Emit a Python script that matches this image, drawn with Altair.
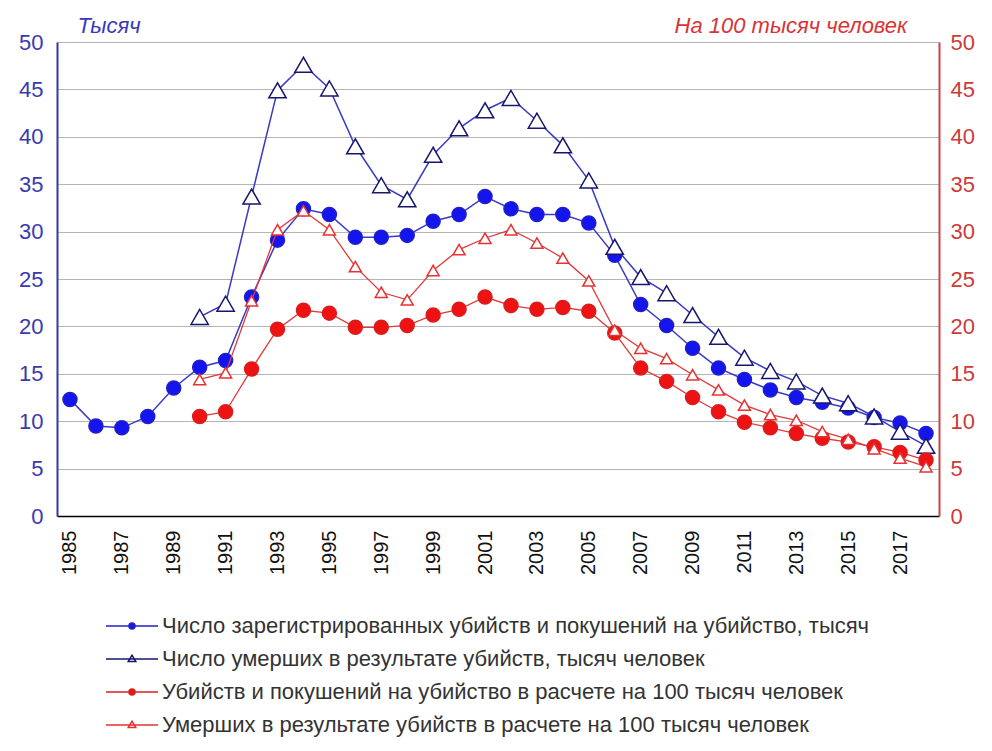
import altair as alt
import pandas as pd

years_all = list(range(1985, 2019))
years_late = list(range(1990, 2019))

S1 = "Число  зарегистрированных убийств и покушений на убийство, тысяч"
S2 = "Число  умерших в результате убийств, тысяч человек"
S3 = "Убийств и покушений  на убийство в расчете на 100 тысяч человек"
S4 = "Умерших в результате убийств в расчете на 100 тысяч человек"
series_names = [S1, S2, S3, S4]

murders_thousand = [12.3, 9.5, 9.3, 10.5, 13.5, 15.7, 16.4, 23.1, 29.1, 32.4,
                    31.8, 29.4, 29.4, 29.6, 31.1, 31.8, 33.7, 32.4, 31.8, 31.8,
                    30.9, 27.5, 22.3, 20.1, 17.7, 15.6, 14.4, 13.3, 12.5, 12.0,
                    11.4, 10.4, 9.8, 8.7]
deaths_thousand = [21.0, 22.4, 33.7, 44.9, 47.6, 45.1, 39.0, 34.9, 33.4, 38.1,
                   40.9, 42.8, 44.1, 41.7, 39.1, 35.4, 28.4, 25.2, 23.5, 21.2,
                   18.9, 16.7, 15.3, 14.2, 12.7, 11.9, 10.5, 8.9, 7.4]
murders_rate = [10.5, 11.0, 15.5, 19.7, 21.7, 21.4, 19.9, 19.9, 20.1, 21.2,
                21.8, 23.1, 22.2, 21.8, 22.0, 21.6, 19.3, 15.6, 14.2, 12.5,
                11.0, 9.9, 9.3, 8.7, 8.2, 7.8, 7.3, 6.7, 5.9]
deaths_rate = [14.4, 15.1, 22.7, 30.2, 32.2, 30.2, 26.3, 23.6, 22.8, 25.9,
               28.1, 29.3, 30.2, 28.8, 27.2, 24.8, 19.6, 17.7, 16.6, 14.9,
               13.3, 11.7, 10.7, 10.1, 8.9, 8.1, 7.1, 6.1, 5.2]

y_ticks = [0, 5, 10, 15, 20, 25, 30, 35, 40, 45, 50]
x_label_years = years_all[::2]

rows = []
for s, yrs, vals in [(S1, years_all, murders_thousand), (S2, years_late, deaths_thousand),
                     (S3, years_late, murders_rate), (S4, years_late, deaths_rate)]:
    for y, v in zip(yrs, vals):
        rows.append({"year": y, "value": v, "series": s})
df = pd.DataFrame(rows)

FONT = "Liberation Sans"
BLUE_LINE = "#3a3ac6"
RED_LINE = "#e23a3a"

tri_path = "M-2.6,0L2.6,0M0,-0.38L0.38,0.26L-0.38,0.26Z"
circ_path = "M-2.6,0L2.6,0M0.3,0A0.3,0.3,0,1,1,-0.3,0A0.3,0.3,0,1,1,0.3,0Z"

shape_scale = alt.Scale(domain=series_names, range=[circ_path, tri_path, circ_path, tri_path])
fill_scale = alt.Scale(domain=series_names, range=["#1414ee", "#ffffff", "#ee1212", "#ffffff"])
stroke_scale = alt.Scale(domain=series_names, range=["#2020c8", "#16166e", "#d81f1f", "#e63232"])

legend = alt.Legend(
    title=None, orient="none", legendX=64, legendY=573, direction="vertical",
    symbolSize=400, symbolStrokeWidth=1.5, labelFont=FONT, labelFontSize=22,
    labelColor="#333333", labelOffset=19, rowPadding=11, padding=0, labelLimit=900,
)

x_enc = alt.X("year:O", scale=alt.Scale(type="point", padding=0.5),
              axis=alt.Axis(title=None, values=x_label_years, labelAngle=270, labelFont=FONT,
                            labelFontSize=20, labelColor="#111111", labelPadding=14, ticks=False,
                            domainColor="#000000", domainWidth=1.5, grid=False))

left_y = alt.Y("value:Q", scale=alt.Scale(domain=[0, 50]),
               axis=alt.Axis(orient="left", values=y_ticks, title="Тысяч", titleAngle=0,
                             titleAlign="left", titleBaseline="middle", titleX=20, titleY=-17,
                             titleFont=FONT, titleFontSize=22, titleFontStyle="italic",
                             titleFontWeight="normal", titleColor="#3838b8",
                             labelFont=FONT, labelFontSize=22, labelColor="#3a3ab0",
                             labelPadding=14, ticks=False, domainColor="#3535a8", domainWidth=2,
                             grid=True, gridColor="#b5b5b5", gridWidth=1.2))
right_y = alt.Y("value:Q", scale=alt.Scale(domain=[0, 50]),
                axis=alt.Axis(orient="right", values=y_ticks, title="На 100 тысяч человек",
                              titleAngle=0, titleAlign="right", titleBaseline="middle",
                              titleX=-32, titleY=-17, titleFont=FONT, titleFontSize=22,
                              titleFontStyle="italic", titleFontWeight="normal",
                              titleColor="#d83434", labelFont=FONT, labelFontSize=22,
                              labelColor="#cc3a3a", labelPadding=11, ticks=False,
                              domainColor="#c04848", domainWidth=2, grid=False))

base = alt.Chart(df)


def points(series_name, shape, size, y_enc):
    return base.transform_filter(alt.datum.series == series_name).mark_point(
        filled=True, shape=shape, size=size, strokeWidth=1.5, opacity=1
    ).encode(
        x=x_enc, y=y_enc,
        fill=alt.Fill("series:N", scale=fill_scale, legend=legend),
        stroke=alt.Stroke("series:N", scale=stroke_scale, legend=legend),
    )


# legend-only layer (no rows survive the filter), supplies line+marker legend symbols
legend_layer = base.transform_filter(alt.datum.year < 0).mark_point(
    filled=True, strokeWidth=1.5, opacity=1
).encode(
    x=x_enc, y=left_y,
    shape=alt.Shape("series:N", scale=shape_scale, legend=legend),
    fill=alt.Fill("series:N", scale=fill_scale, legend=legend),
    stroke=alt.Stroke("series:N", scale=stroke_scale, legend=legend),
)

line_left = base.transform_filter(alt.FieldOneOfPredicate(field="series", oneOf=[S1, S2])).mark_line(
    color=BLUE_LINE, strokeWidth=1.5).encode(x=x_enc, y=left_y, detail="series:N")
line_right = base.transform_filter(alt.FieldOneOfPredicate(field="series", oneOf=[S3, S4])).mark_line(
    color=RED_LINE, strokeWidth=1.3).encode(x=x_enc, y=right_y, detail="series:N")

left = alt.layer(line_left, points(S1, "circle", 196, left_y),
                 points(S2, "triangle-up", 300, left_y), legend_layer)
right = alt.layer(line_right, points(S3, "circle", 196, right_y),
                  points(S4, "triangle-up", 144, right_y))

chart = alt.layer(left, right).resolve_scale(y="independent").properties(
    width=882, height=474,
    autosize=alt.AutoSizeParams(type="none"),
    padding={"left": 49, "top": 34, "right": 40, "bottom": 222},
).configure_view(stroke=None).configure(font=FONT, background="white")

chart.save("out.html", embed_options={"renderer": "svg", "actions": False})
